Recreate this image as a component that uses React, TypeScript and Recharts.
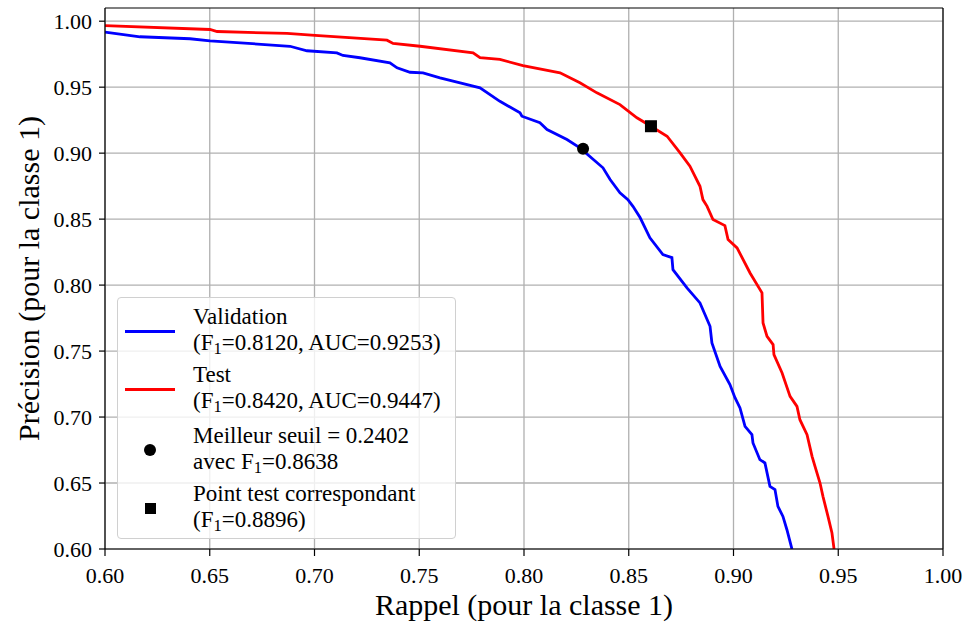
import {
  ComposedChart, Line, Scatter, XAxis, YAxis, CartesianGrid, ReferenceLine, Label,
} from "recharts";

// Courbe de validation (rappel, précision)
const valRecall = [
  0.6, 0.6167, 0.6406, 0.6501, 0.6883, 0.6964, 0.7107, 0.7136, 0.7217, 0.736, 0.7394, 0.7456,
  0.7518, 0.7599, 0.7695, 0.779, 0.7885, 0.7981, 0.799, 0.8076, 0.811, 0.8205, 0.8267, 0.8377,
  0.8411, 0.8458, 0.8496, 0.852, 0.8554, 0.8601, 0.8663, 0.8706, 0.8711, 0.8778, 0.884, 0.8888,
  0.8897, 0.8936, 0.8983, 0.9007, 0.9031, 0.9055, 0.9088, 0.9093, 0.9126, 0.915, 0.9174, 0.9198,
  0.9212, 0.9236, 0.9255, 0.9279,
];
const valPrecision = [
  0.9918, 0.9882, 0.9867, 0.9851, 0.981, 0.9776, 0.976, 0.974, 0.9723, 0.9685, 0.9647, 0.9613,
  0.9609, 0.9571, 0.9533, 0.9495, 0.9393, 0.9306, 0.928, 0.923, 0.9179, 0.9103, 0.904, 0.8889,
  0.88, 0.8699, 0.8648, 0.8597, 0.8512, 0.8358, 0.8231, 0.8208, 0.8117, 0.7979, 0.7865, 0.7688,
  0.7562, 0.7384, 0.7246, 0.7147, 0.7069, 0.6929, 0.6867, 0.6804, 0.6677, 0.6652, 0.6475, 0.645,
  0.6323, 0.6247, 0.6146, 0.6,
];

// Courbe de test
const testRecall = [
  0.6, 0.6501, 0.6535, 0.6869, 0.7002, 0.7346, 0.7375, 0.7504, 0.7757, 0.779, 0.7885, 0.7995,
  0.8172, 0.8267, 0.8348, 0.8458, 0.8539, 0.8606, 0.8683, 0.8745, 0.8792, 0.884, 0.8854, 0.8874,
  0.8902, 0.8959, 0.8974, 0.9017, 0.9079, 0.9136, 0.9141, 0.916, 0.9189, 0.9193, 0.9232, 0.927,
  0.9303, 0.9317, 0.9351, 0.9375, 0.9389, 0.9413, 0.9427, 0.9451, 0.947, 0.948,
];
const testPrecision = [
  0.9967, 0.9937, 0.9922, 0.9907, 0.9892, 0.9856, 0.9831, 0.981, 0.976, 0.9723, 0.971, 0.9664,
  0.9609, 0.9533, 0.9457, 0.9368, 0.9268, 0.9204, 0.9128, 0.9002, 0.8901, 0.8749, 0.8648, 0.8597,
  0.8497, 0.8451, 0.8345, 0.8282, 0.8092, 0.7941, 0.7713, 0.7612, 0.7549, 0.7473, 0.7334, 0.7157,
  0.7081, 0.698, 0.6867, 0.6702, 0.6626, 0.65, 0.6399, 0.6247, 0.6121, 0.6,
];

const bestPoint = [{ x: 0.8282, y: 0.9033 }];
const testPoint = [{ x: 0.8606, y: 0.9204 }];

const xTicks = [0.6, 0.65, 0.7, 0.75, 0.8, 0.85, 0.9, 0.95, 1.0];
const yTicks = [0.6, 0.65, 0.7, 0.75, 0.8, 0.85, 0.9, 0.95, 1.0];

const valData = valRecall.map((x, i) => ({ x, y: valPrecision[i] }));
const testData = testRecall.map((x, i) => ({ x, y: testPrecision[i] }));

const FONT = "'Liberation Serif', 'Times New Roman', serif";

const Sub = ({ children }: { children: string }) => (
  <span style={{ fontSize: "0.72em", position: "relative", top: "0.22em" }}>{children}</span>
);

function LegendBox() {
  const entries = [
    { top: 6, kind: "line", color: "#0000ff", l1: <>Validation</>, l2: <>(F<Sub>1</Sub>=0.8120, AUC=0.9253)</> },
    { top: 64, kind: "line", color: "#ff0000", l1: <>Test</>, l2: <>(F<Sub>1</Sub>=0.8420, AUC=0.9447)</> },
    { top: 125, kind: "circle", color: "#000", l1: <>Meilleur seuil = 0.2402</>, l2: <>avec F<Sub>1</Sub>=0.8638</> },
    { top: 183, kind: "square", color: "#000", l1: <>Point test correspondant</>, l2: <>(F<Sub>1</Sub>=0.8896)</> },
  ];
  return (
    <div
      style={{
        position: "absolute", left: 117, top: 297, width: 337, height: 240,
        background: "rgba(255,255,255,0.8)", border: "1px solid #d0d0d0", borderRadius: 4,
        fontFamily: FONT, fontSize: 23, color: "#000",
      }}
    >
      {entries.map((e, i) => (
        <div key={i} style={{ position: "absolute", left: 0, top: e.top, width: "100%", height: 54 }}>
          <div style={{ position: "absolute", left: 7, top: 27, width: 50, height: 0 }}>
            {e.kind === "line" && <div style={{ width: 50, height: 3, marginTop: -1.5, background: e.color }} />}
            {e.kind === "circle" && (
              <div style={{ position: "absolute", left: 19, top: -6, width: 12, height: 12, borderRadius: 6, background: "#000" }} />
            )}
            {e.kind === "square" && (
              <div style={{ position: "absolute", left: 20, top: -5, width: 11, height: 11, background: "#000" }} />
            )}
          </div>
          <div style={{ position: "absolute", left: 75, top: 0, lineHeight: "26px", whiteSpace: "nowrap" }}>
            <div>{e.l1}</div>
            <div>{e.l2}</div>
          </div>
        </div>
      ))}
    </div>
  );
}

export default function App() {
  const tick = { fontSize: 22, fontFamily: FONT, fill: "#000" };
  return (
    <div style={{ position: "relative", width: 966, height: 626, background: "#fff" }}>
      <style>{"body{margin:0}"}</style>
      <ComposedChart width={966} height={626} margin={{ top: 8, right: 23, bottom: 0, left: 0 }}>
        <CartesianGrid stroke="#b0b0b0" strokeWidth={1.3} horizontalValues={yTicks} verticalValues={xTicks} />
        <XAxis
          type="number" dataKey="x" domain={[0.6, 1.0]} ticks={xTicks} allowDataOverflow
          tickFormatter={(v: number) => v.toFixed(2)} tick={tick} height={77}
          tickSize={7} tickMargin={11} stroke="#000" strokeWidth={1.2}
        >
          <Label
            content={({ viewBox }: any) => (
              <text x={viewBox.x + viewBox.width / 2} y={615} textAnchor="middle"
                style={{ fontSize: 30, fontFamily: FONT, fill: "#000" }}>
                Rappel (pour la classe 1)
              </text>
            )}
          />
        </XAxis>
        <YAxis
          type="number" dataKey="y" domain={[0.6, 1.01]} ticks={yTicks} allowDataOverflow
          tickFormatter={(v: number) => v.toFixed(2)} tick={tick} width={105}
          tickSize={6} tickMargin={7} stroke="#000" strokeWidth={1.2}
        >
          <Label
            content={({ viewBox }: any) => {
              const cy = viewBox.y + viewBox.height / 2;
              return (
                <text x={28} y={cy} textAnchor="middle" dominantBaseline="central"
                  transform={`rotate(-90, 28, ${cy})`}
                  style={{ fontSize: 30, fontFamily: FONT, fill: "#000" }}>
                  Précision (pour la classe 1)
                </text>
              );
            }}
          />
        </YAxis>
        <ReferenceLine y={1.01} stroke="#000" strokeWidth={1.2} />
        <ReferenceLine x={1.0} stroke="#000" strokeWidth={1.2} />
        <Line data={valData} dataKey="y" type="linear" stroke="#0000ff" strokeWidth={2.8} dot={false} isAnimationActive={false} />
        <Line data={testData} dataKey="y" type="linear" stroke="#ff0000" strokeWidth={2.8} dot={false} isAnimationActive={false} />
        <Scatter
          data={bestPoint} dataKey="y" isAnimationActive={false}
          shape={(p: any) => <circle cx={p.cx} cy={p.cy} r={6} fill="#000" />}
        />
        <Scatter
          data={testPoint} dataKey="y" isAnimationActive={false}
          shape={(p: any) => <rect x={p.cx - 6} y={p.cy - 6} width={12} height={12} fill="#000" />}
        />
      </ComposedChart>
      <LegendBox />
    </div>
  );
}
